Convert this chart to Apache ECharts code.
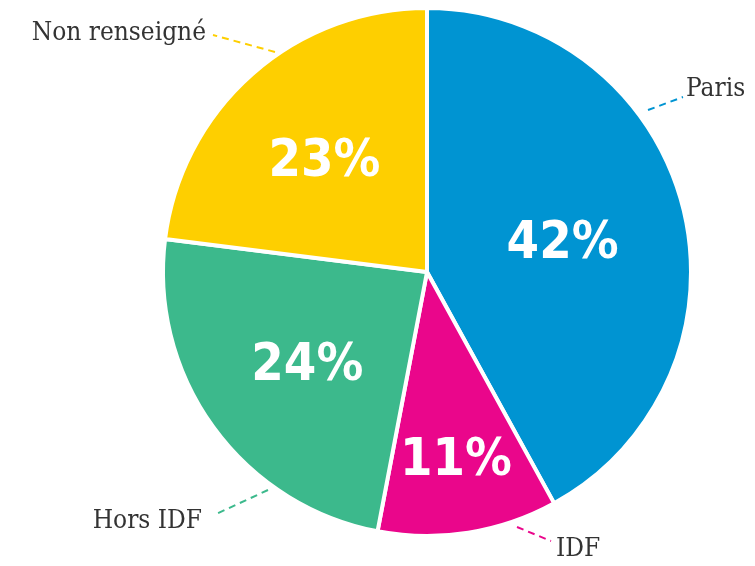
<!DOCTYPE html>
<html>
<head>
<meta charset="utf-8">
<script src="https://cdn.jsdelivr.net/npm/echarts@6/dist/echarts.min.js"></script>
<style>
  html, body { margin: 0; padding: 0; background: #fff; }
  #main { width: 755px; height: 566px; }
</style>
</head>
<body>
<div id="main"></div>
<script>
// donnees
var categories = ['Paris', 'IDF', 'Hors IDF', 'Non renseigné'];
var values = [42, 11, 24, 23];
var pctLabels = ['42%', '11%', '24%', '23%'];
var colors = ['#0094d2', '#ea068b', '#3cb98c', '#fecf00'];

var CX = 427, CY = 272, R = 264;

// placement des etiquettes exterieures (texte + trait pointille)
var outerPos = {
  'Paris': { x: 686, y: 89, align: 'left', line: [[648, 110], [683, 97]] },
  'IDF': { x: 556, y: 549, align: 'left', line: [[517, 527], [551, 541]] },
  'Hors IDF': { x: 202, y: 521, align: 'right', line: [[268, 490], [214, 515]] },
  'Non renseigné': { x: 206, y: 33, align: 'right', line: [[275, 52], [213, 35]] }
};
// distance au centre des pourcentages
var innerDist = [140, 185, 148, 155];

var chart = echarts.init(document.getElementById('main'), null, { renderer: 'canvas' });

var outerData = categories.map(function (c, i) {
  return {
    name: c,
    value: values[i],
    itemStyle: { color: colors[i] },
    labelLine: { lineStyle: { color: colors[i] } }
  };
});
var innerData = categories.map(function (c, i) {
  return { name: c, value: values[i] };
});

var option = {
  animation: false,
  series: [
    {
      type: 'pie',
      center: [CX, CY],
      radius: [0, R],
      startAngle: 90,
      clockwise: true,
      avoidLabelOverlap: false,
      silent: true,
      data: outerData,
      itemStyle: { borderColor: '#fff', borderWidth: 4 },
      label: {
        show: true,
        position: 'outside',
        formatter: '{b}',
        color: '#333',
        fontSize: 26,
        fontFamily: '"DejaVu Serif Condensed", "DejaVu Serif", serif'
      },
      labelLine: {
        show: true,
        lineStyle: { width: 2, type: [7, 5] }
      },
      labelLayout: function (p) {
        var o = outerPos[categories[p.dataIndex]];
        return {
          x: o.x,
          y: o.y,
          align: o.align,
          verticalAlign: 'middle',
          labelLinePoints: [o.line[0], o.line[1], o.line[1]]
        };
      }
    },
    {
      type: 'pie',
      center: [CX, CY],
      radius: [0, R],
      startAngle: 90,
      clockwise: true,
      silent: true,
      data: innerData,
      itemStyle: { color: 'rgba(0,0,0,0)', borderWidth: 0 },
      label: {
        show: true,
        position: 'inside',
        formatter: function (p) { return pctLabels[p.dataIndex]; },
        color: '#fff',
        fontSize: 52,
        fontWeight: 'bold',
        fontFamily: '"Liberation Sans Narrow", "DejaVu Sans Condensed", sans-serif'
      },
      labelLine: { show: false },
      labelLayout: function (p) {
        var r = p.labelRect;
        var lx = r.x + r.width / 2, ly = r.y + r.height / 2;
        var dx = lx - CX, dy = ly - CY;
        var d = Math.sqrt(dx * dx + dy * dy) || 1;
        var k = innerDist[p.dataIndex] / d;
        return {
          x: CX + dx * k,
          y: CY + dy * k + 7,
          align: 'center',
          verticalAlign: 'middle'
        };
      }
    }
  ]
};

chart.setOption(option);
</script>
</body>
</html>
